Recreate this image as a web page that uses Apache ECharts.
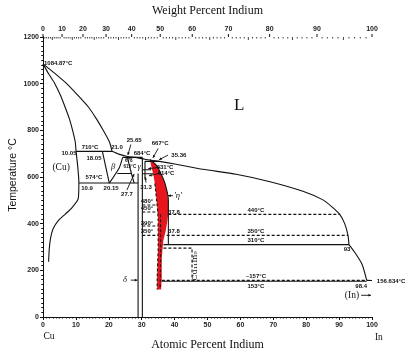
<!DOCTYPE html>
<html>
<head>
<meta charset="utf-8">
<script src="https://cdn.jsdelivr.net/npm/echarts@6/dist/echarts.min.js"></script>
<style>
  html, body { margin: 0; padding: 0; background: #fff; }
  #chart { width: 406px; height: 356px; }
</style>
</head>
<body>
<div id="chart"></div>
<script>
// Cu-In phase diagram, x = atomic percent In, y = temperature (C)
const wtTicks = [0, 10, 20, 30, 40, 50, 60, 70, 80, 90, 100]

const liqCu = [[0, 1084.87], [3.5, 1045], [7.2, 1000], [10.6, 950], [13.8, 900], [16.2, 850], [18.3, 800], [20.2, 750], [21.0, 710]]
const solCu = [[0, 1084.87], [1.8, 1040], [3.6, 1000], [5.3, 950], [6.7, 900], [8.0, 850], [9.0, 800], [9.8, 750], [10.05, 710]]
const solvCu = [[10.05, 710], [10.9, 574], [10.7, 507], [8.7, 467], [6.7, 440], [4.65, 413], [3.1, 379], [2.3, 338], [1.9, 291], [1.7, 237]]
const liqMain = [[21.0, 710], [23, 698], [25.65, 688], [28, 684], [31, 676], [35.36, 667], [40, 656], [48.6, 633], [58.7, 612], [69, 580], [79, 539], [85.1, 502], [88, 470], [90.2, 440], [91.7, 400], [92.7, 350], [93, 310]]
const liqLow = [[93, 310], [95, 272], [97, 225], [98.4, 157]]
const inTail = [[98.4, 157], [100, 156.634]]

const iso710 = [[10.05, 710], [21.0, 710]]
const iso574 = [[10.9, 574], [28.9, 574]]
const iso684 = [[24.2, 684], [30.2, 684]]
const iso667 = [[31.0, 667], [35.36, 667]]
const iso631 = [[30.2, 631], [32.9, 631]]
const iso615 = [[22.6, 615], [26.9, 615]]
const iso614 = [[30.2, 614], [33.5, 614]]
const iso310 = [[36.6, 310], [93, 310]]
const iso153 = [[36.1, 153], [98.4, 153]]

const betaLeft = [[18.05, 710], [20.15, 574]]
const betaRight = [[24.2, 684], [23.2, 640], [20.15, 574]]
const gammaLeft = [[25.65, 684], [26.6, 630], [27.7, 574]]
const deltaLeft = [[28.9, 0], [28.9, 615]]
const deltaRight = [[30.2, 0], [30.2, 684]]
const boxLine = [[31.0, 667], [31.0, 592]]
const etaRight = [[32.5, 674], [34.3, 653], [35.9, 613], [37.1, 572], [38.1, 503], [38.1, 310]]

const iso440 = [[38.1, 440], [90.2, 440]]
const iso350 = [[37.6, 350], [92.7, 350]]
const iso157 = [[36.1, 157], [98.4, 157]]
const cuBox = [[36.6, 295], [45.3, 295], [45.3, 155]]
const s480 = [[30.2, 480], [34.9, 480]]
const s450 = [[30.2, 450], [34.9, 450]]
const s390 = [[30.2, 390], [35.0, 390]]
const s350 = [[30.2, 350], [35.0, 350]]
const etaHatch = [[34.0, 572], [34.3, 532], [34.6, 491], [34.9, 450], [35.0, 410], [35.0, 288], [34.9, 248], [34.7, 166], [34.7, 118]]
const etaHatch2 = [[35.7, 440], [35.8, 300], [35.6, 120]]

// eta' field (red)
const redLeft = [[32.5, 674], [32.8, 653], [33.5, 613], [34.0, 572], [34.3, 532], [34.6, 491], [34.9, 450], [35.0, 410], [35.0, 288], [34.9, 248], [34.7, 166], [34.7, 118]]
const redRight = [[32.5, 674], [34.3, 653], [35.9, 613], [37.1, 572], [37.8, 532], [38.1, 491], [38.1, 450], [37.8, 410], [37.3, 369], [36.6, 329], [36.3, 288], [36.1, 248], [36.1, 166], [35.9, 118]]

const smallNotes = [
  [14.3, 726, '710°C'], [7.9, 702, '10.05'], [15.5, 682, '18.05'], [22.5, 726, '21.0'],
  [27.7, 755, '25.65'], [30.1, 702, '684°C'], [35.6, 743, '667°C'], [41.3, 694, '35.36'],
  [37.1, 641, '631°C'], [37.4, 617, '614°C'], [15.5, 597, '574°C'], [13.4, 552, '10.9'],
  [20.7, 552, '20.15'], [25.5, 524, '27.7'], [31.3, 556, '31.3'],
  [31.6, 495, '480°'], [31.6, 467, '450°'], [31.6, 402, '390°'], [31.6, 365, '350°'],
  [39.8, 450, '37.8'], [39.8, 365, '37.8'],
  [64.7, 455, '440°C'], [64.7, 369, '350°C'], [64.7, 329, '310°C'], [92.4, 292, '93'],
  [64.7, 175, '~157°C'], [64.7, 130, '153°C'], [96.7, 130, '98.4'], [105.8, 154, '156.634°C']
]
const tinyNotes = [[26.1, 670, '678'], [26.4, 645, '615°C']]
const leftNotes = [[0.3, 1088, '1084.87°C']]
const serifNotes = [[5.5, 641, '(Cu)'], [93.9, 93, '(In)'], [1.8, -85, 'Cu'], [102.1, -89, 'In']]
const greekNotes = [[21.3, 645, 'β'], [29.2, 645, 'γ'], [24.9, 158, 'δ'], [41.0, 520, "'η'"]]
const arrows = [
  [26.7, 158, 28.7, 158], [96.7, 93, 99.7, 93], [39.5, 520, 38.0, 520],
  [35.0, 722, 33.4, 682], [38.0, 694, 35.3, 674], [35.4, 641, 32.0, 636],
  [35.7, 617, 32.2, 605], [26.7, 739, 25.8, 694], [25.5, 544, 27.7, 613], [31.3, 576, 31.1, 600]
]

function atPct(w) {
  const a = w / 114.818
  const b = (100 - w) / 63.546
  return (a / (a + b)) * 100
}

const ink = '#111'
function line(data, dashed, smooth) {
  return {
    type: 'line', data, symbol: 'none', silent: true, smooth: smooth || false, z: 3,
    lineStyle: { color: ink, width: 1.1, type: dashed ? [3, 2] : 'solid' }
  }
}
function notes(data, font, extra) {
  return {
    type: 'custom', data: data.map(n => [n[0], n[1]]), clip: false, silent: true, z: 5,
    renderItem(params, api) {
      const p = api.coord([api.value(0), api.value(1)])
      return {
        type: 'text', x: p[0], y: p[1],
        style: Object.assign({ text: data[params.dataIndex][2], fill: ink, align: 'center', verticalAlign: 'middle' }, font, extra)
      }
    }
  }
}

const chart = echarts.init(document.getElementById('chart'))
const axisFont = { color: '#222', fontSize: 7, fontWeight: 'bold', fontFamily: 'Liberation Sans', formatter: v => String(v) }
const option = {
  animation: false,
  grid: { left: 43, right: 34, top: 35, bottom: 25 },
  xAxis: [
    {
      type: 'value', min: 0, max: 100, interval: 10, position: 'bottom',
      name: 'Atomic Percent Indium', nameLocation: 'middle', nameGap: 22,
      nameTextStyle: { fontFamily: 'Liberation Serif', fontSize: 12, color: ink },
      axisLine: { lineStyle: { color: ink, width: 1 } },
      axisTick: { length: 3, lineStyle: { color: ink } },
      minorTick: { show: true, splitNumber: 10, length: 1.5, lineStyle: { color: ink } },
      axisLabel: Object.assign({ margin: 5 }, axisFont),
      splitLine: { show: false }
    },
    {
      type: 'value', min: 0, max: 100, position: 'top',
      name: 'Weight Percent Indium', nameLocation: 'middle', nameGap: 20,
      nameTextStyle: { fontFamily: 'Liberation Serif', fontSize: 12, color: ink },
      axisLine: { lineStyle: { color: ink, width: 1 } },
      axisTick: { show: false }, axisLabel: { show: false }, splitLine: { show: false }
    }
  ],
  yAxis: [
    {
      type: 'value', min: 0, max: 1200, interval: 200, position: 'left',
      axisLine: { show: true, lineStyle: { color: ink, width: 1 } },
      axisTick: { show: true, length: 3, lineStyle: { color: ink } },
      minorTick: { show: true, splitNumber: 10, length: 1.5, lineStyle: { color: ink } },
      axisLabel: Object.assign({ margin: 4 }, axisFont),
      splitLine: { show: false }
    },
    {
      type: 'value', min: 0, max: 1200, interval: 200, position: 'right',
      axisLine: { show: true, lineStyle: { color: ink, width: 1 } },
      axisTick: { show: true, inside: true, length: 3, lineStyle: { color: ink } },
      minorTick: { show: true, splitNumber: 10, length: 1.5, lineStyle: { color: ink } },
      axisLabel: { show: false }, splitLine: { show: false }
    }
  ],
  graphic: [{
    type: 'text', x: 13, y: 175, rotation: Math.PI / 2,
    style: { text: 'Temperature °C', fill: ink, fontSize: 10.5, fontFamily: 'Liberation Sans', align: 'center', verticalAlign: 'middle' }
  }],
  series: [
    {
      type: 'custom', data: [0], silent: true, z: 2,
      renderItem(params, api) {
        const pts = redLeft.concat(redRight.slice().reverse()).map(p => api.coord(p))
        return { type: 'polygon', shape: { points: pts }, style: { fill: '#e8161c' } }
      }
    },
    line(liqCu, false, 0.2), line(solCu, false, 0.2), line(solvCu, false, 0.25),
    line(liqMain, false, 0.2), line(liqLow, false, 0.2), line(inTail),
    line(iso710), line(iso574), line(iso684), line(iso667), line(iso631), line(iso615), line(iso614),
    line(iso310), line(iso153),
    line(betaLeft), line(betaRight, false, 0.2), line(gammaLeft, false, 0.2),
    line(deltaLeft), line(deltaRight), line(boxLine), line(etaRight, false, 0.2),
    line(iso440, true), line(iso350, true), line(iso157, true), line(cuBox, true),
    line(s480, true), line(s450, true), line(s390, true), line(s350, true),
    line(etaHatch, true), line(etaHatch2, true),
    {
      // weight percent scale along the top edge
      type: 'custom', clip: false, silent: true, z: 4,
      data: Array.from({ length: 101 }, (_, w) => [atPct(w), w]),
      renderItem(params, api) {
        const w = api.value(1)
        const p = api.coord([api.value(0), 1200])
        if (wtTicks.indexOf(w) >= 0) {
          return {
            type: 'group', children: [
              { type: 'line', shape: { x1: p[0], y1: p[1], x2: p[0], y2: p[1] - 3 }, style: { stroke: ink, lineWidth: 1 } },
              { type: 'text', x: p[0], y: p[1] - 8, style: { text: String(w), fill: '#222', fontSize: 7, fontWeight: 'bold', fontFamily: 'Liberation Sans', align: 'center', verticalAlign: 'middle' } }
            ]
          }
        }
        return { type: 'line', shape: { x1: p[0], y1: p[1], x2: p[0], y2: p[1] + (w % 5 === 0 ? 3 : 1.5) }, style: { stroke: ink, lineWidth: 0.8 } }
      }
    },
    {
      type: 'custom', clip: false, silent: true, z: 4, data: arrows,
      renderItem(params, api) {
        const a = api.coord([api.value(0), api.value(1)])
        const b = api.coord([api.value(2), api.value(3)])
        const ang = Math.atan2(b[1] - a[1], b[0] - a[0])
        const s = 3
        const l = [b[0] - s * Math.cos(ang - 0.45), b[1] - s * Math.sin(ang - 0.45)]
        const r = [b[0] - s * Math.cos(ang + 0.45), b[1] - s * Math.sin(ang + 0.45)]
        return {
          type: 'group', children: [
            { type: 'line', shape: { x1: a[0], y1: a[1], x2: b[0], y2: b[1] }, style: { stroke: ink, lineWidth: 0.9 } },
            { type: 'polygon', shape: { points: [b, l, r] }, style: { fill: ink } }
          ]
        }
      }
    },
    notes(smallNotes, { fontSize: 6, fontWeight: 'bold', fontFamily: 'Liberation Sans' }),
    notes(tinyNotes, { fontSize: 4.5, fontWeight: 'bold', fontFamily: 'Liberation Sans' }),
    notes(leftNotes, { fontSize: 6, fontWeight: 'bold', fontFamily: 'Liberation Sans' }, { align: 'left' }),
    notes(serifNotes, { fontSize: 9.5, fontFamily: 'Liberation Serif' }),
    notes(greekNotes, { fontSize: 8.5, fontStyle: 'italic', fontFamily: 'Liberation Serif' }),
    notes([[59.6, 905, 'L']], { fontSize: 17, fontFamily: 'Liberation Serif' }),
    {
      type: 'custom', clip: false, silent: true, z: 5, data: [[46.2, 219]],
      renderItem(params, api) {
        const p = api.coord([api.value(0), api.value(1)])
        return {
          type: 'text', x: p[0], y: p[1], rotation: Math.PI / 2,
          style: { text: 'Cu₁₁In₉', fill: ink, fontSize: 8, fontFamily: 'DejaVu Serif', align: 'center', verticalAlign: 'middle' }
        }
      }
    }
  ]
}
chart.setOption(option)
</script>
</body>
</html>
